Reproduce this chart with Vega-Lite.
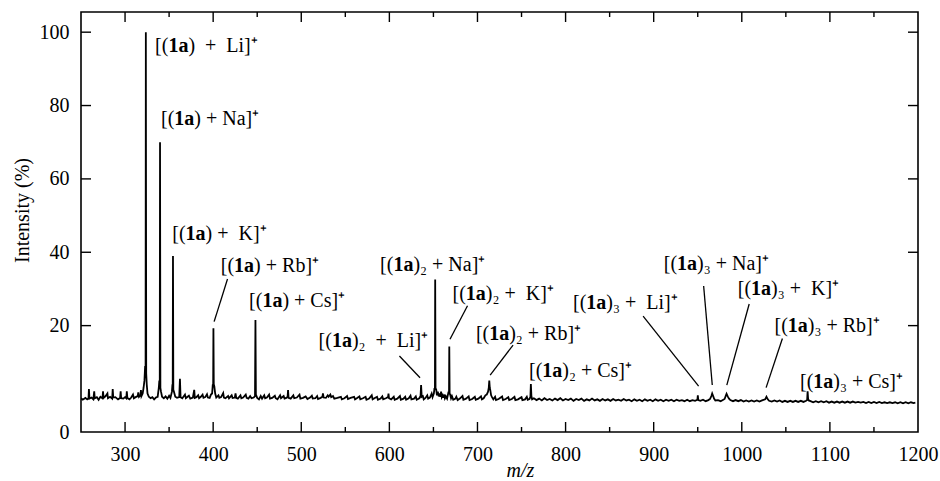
{
  "$schema": "https://vega.github.io/schema/vega-lite/v6.json",
  "width": 837,
  "height": 420,
  "autosize": {"type": "none"},
  "padding": {"left": 81, "top": 12, "right": 22, "bottom": 49},
  "background": "white",
  "config": {
    "font": "Liberation Serif",
    "view": {"stroke": "#000", "strokeWidth": 1.6},
    "axis": {
      "domainOpacity": 0, "gridOpacity": 0,
      "labelFont": "Liberation Serif", "labelFontSize": 20, "labelColor": "#000",
      "titleFont": "Liberation Serif", "titleFontSize": 20, "titleColor": "#000", "titleFontWeight": "normal",
      "labelFlush": false, "labelOverlap": false
    }
  },
  "datasets": {
    "spectrum": [
      {"mz":250,"i":0.2},{"mz":252,"i":-0.2},{"mz":255,"i":0.3},{"mz":257,"i":-0.1},{"mz":258.5,"i":0.2},{"mz":259,"i":2.7},{"mz":259.6,"i":0.1},
      {"mz":262,"i":0.4},{"mz":264,"i":-0.1},{"mz":265,"i":2.1},{"mz":265.6,"i":0.2},{"mz":268,"i":0.5},{"mz":270,"i":-0.2},{"mz":272,"i":0.6},
      {"mz":274.4,"i":0.2},{"mz":275,"i":2.1},{"mz":275.6,"i":0.3},{"mz":278,"i":0.8},{"mz":280,"i":1.5},{"mz":280.6,"i":0.2},{"mz":283,"i":0.6},
      {"mz":285.4,"i":0.1},{"mz":286,"i":2.7},{"mz":286.6,"i":0.4},{"mz":289,"i":0.5},{"mz":292,"i":-0.1},{"mz":294.4,"i":0.3},{"mz":295,"i":2.1},
      {"mz":295.6,"i":0.2},{"mz":298,"i":0.1},{"mz":300,"i":0.5},{"mz":301.4,"i":0.2},{"mz":302,"i":2.1},{"mz":302.6,"i":0.3},{"mz":305,"i":-0.1},
      {"mz":307,"i":0.4},{"mz":309,"i":1.2},{"mz":310,"i":0.2},{"mz":312,"i":0.5},{"mz":314.4,"i":0.8},{"mz":315,"i":1.8},{"mz":315.8,"i":0.6},
      {"mz":317.5,"i":1.0},{"mz":318,"i":2.4},{"mz":318.6,"i":0.8},{"mz":320,"i":1.5},{"mz":321,"i":3},{"mz":322,"i":5},{"mz":322.8,"i":9},
      {"mz":323.3,"i":8},{"mz":323.6,"i":100},{"mz":324,"i":7},{"mz":324.6,"i":4},{"mz":325.5,"i":1.5},{"mz":327,"i":0.6},{"mz":329,"i":0.2},
      {"mz":331,"i":0.5},{"mz":333,"i":-0.1},{"mz":335,"i":0.4},{"mz":337,"i":0.6},{"mz":338.3,"i":3},{"mz":338.9,"i":5},{"mz":339.4,"i":3},
      {"mz":339.7,"i":70},{"mz":340.1,"i":3},{"mz":340.8,"i":2},{"mz":342,"i":0.6},{"mz":344,"i":0.2},{"mz":346,"i":0.7},{"mz":348,"i":0.1},
      {"mz":350,"i":0.9},{"mz":351.5,"i":0.3},{"mz":353.2,"i":2},{"mz":353.8,"i":4},{"mz":354.1,"i":2.5},{"mz":354.4,"i":39},{"mz":354.8,"i":2.5},
      {"mz":355.5,"i":2},{"mz":357,"i":0.6},{"mz":359,"i":0.3},{"mz":361.5,"i":0.5},{"mz":362.3,"i":5.5},{"mz":363,"i":0.5},{"mz":365,"i":0.2},
      {"mz":368,"i":1.2},{"mz":369,"i":0.2},{"mz":371,"i":0.6},{"mz":372.5,"i":0.9},{"mz":374,"i":0.1},{"mz":377,"i":0.4},{"mz":378.5,"i":2.5},
      {"mz":379.2,"i":0.3},{"mz":381,"i":0.5},{"mz":383,"i":1},{"mz":384,"i":0.2},{"mz":386,"i":0.6},{"mz":388,"i":1.2},{"mz":389,"i":0.3},
      {"mz":391,"i":0.5},{"mz":393,"i":1.3},{"mz":394,"i":0.4},{"mz":396,"i":0.3},{"mz":397.5,"i":1.2},{"mz":398.8,"i":1.5},{"mz":399.6,"i":4},
      {"mz":400,"i":3.5},{"mz":400.3,"i":19.3},{"mz":400.7,"i":4},{"mz":401.3,"i":3.5},{"mz":402.3,"i":1.5},{"mz":403.5,"i":0.4},{"mz":406,"i":1},
      {"mz":407,"i":0.3},{"mz":409,"i":0.5},{"mz":411.4,"i":1.6},{"mz":412.2,"i":0.4},{"mz":414,"i":0.2},{"mz":417,"i":0.8},{"mz":418,"i":0.2},
      {"mz":421,"i":1},{"mz":422,"i":0.3},{"mz":424.6,"i":0.4},{"mz":425.4,"i":1.5},{"mz":426.2,"i":0.3},{"mz":428,"i":0.1},{"mz":431,"i":1},
      {"mz":432,"i":0.2},{"mz":434,"i":0.4},{"mz":437,"i":1.2},{"mz":438,"i":0.3},{"mz":440,"i":0.1},{"mz":442,"i":0.8},{"mz":443.5,"i":0.2},
      {"mz":446,"i":0.4},{"mz":447.5,"i":0.8},{"mz":448,"i":21.5},{"mz":448.5,"i":1.2},{"mz":450,"i":0.3},{"mz":452,"i":-0.1},{"mz":454,"i":0.8},
      {"mz":455.5,"i":0.1},{"mz":458,"i":1},{"mz":459,"i":0.2},{"mz":461,"i":0.4},{"mz":463.5,"i":1.2},{"mz":464.5,"i":0.1},{"mz":467,"i":0.3},
      {"mz":470,"i":0.9},{"mz":471,"i":0.2},{"mz":473,"i":-0.1},{"mz":476,"i":1},{"mz":477,"i":0.2},{"mz":480,"i":0.8},{"mz":481,"i":0.1},
      {"mz":483,"i":0.3},{"mz":484.5,"i":0.6},{"mz":485,"i":2.4},{"mz":485.6,"i":0.3},{"mz":488,"i":0.1},{"mz":491,"i":1},{"mz":492,"i":0.2},
      {"mz":495,"i":0.4},{"mz":498,"i":1.2},{"mz":499,"i":0.1},{"mz":502,"i":0.3},{"mz":505,"i":0.7},{"mz":507,"i":0},{"mz":510,"i":0.4},
      {"mz":512,"i":0.9},{"mz":513,"i":0.1},{"mz":516,"i":0.2},{"mz":518,"i":0.8},{"mz":519,"i":0},{"mz":522,"i":0.3},{"mz":524,"i":0.6},
      {"mz":524.6,"i":1.5},{"mz":525.4,"i":0.4},{"mz":528,"i":0.3},{"mz":530,"i":1},{"mz":531,"i":0.6},{"mz":533,"i":1.2},{"mz":534,"i":0.5},
      {"mz":536,"i":0.8},{"mz":537.5,"i":0.1},{"mz":541,"i":0.3},{"mz":545,"i":0.6},{"mz":546,"i":-0.1},{"mz":549,"i":0.2},{"mz":552,"i":0.8},
      {"mz":553,"i":0},{"mz":556,"i":0.3},{"mz":560,"i":0.6},{"mz":561,"i":-0.1},{"mz":563,"i":0.2},{"mz":566,"i":0.7},{"mz":567,"i":-0.1},
      {"mz":570,"i":0.2},{"mz":573,"i":0.6},{"mz":574,"i":-0.2},{"mz":577,"i":0.1},{"mz":580,"i":1},{"mz":581,"i":-0.1},{"mz":583,"i":0.2},
      {"mz":586,"i":0.6},{"mz":587,"i":-0.2},{"mz":590,"i":0.1},{"mz":592,"i":0.7},{"mz":593,"i":-0.1},{"mz":596,"i":0.2},{"mz":598.5,"i":0.5},
      {"mz":599,"i":1.5},{"mz":599.6,"i":0.2},{"mz":602,"i":-0.1},{"mz":605,"i":0.6},{"mz":606,"i":-0.2},{"mz":609,"i":0.1},{"mz":612,"i":0.8},
      {"mz":613,"i":-0.2},{"mz":616,"i":0.1},{"mz":618,"i":0.6},{"mz":619,"i":-0.2},{"mz":622,"i":0.2},{"mz":624,"i":0.9},{"mz":625,"i":-0.1},
      {"mz":628,"i":0.1},{"mz":630,"i":0.7},{"mz":631,"i":-0.2},{"mz":634,"i":0.2},{"mz":635.4,"i":0.8},{"mz":636,"i":3.8},{"mz":636.7,"i":0.6},
      {"mz":638,"i":0.8},{"mz":639,"i":-0.1},{"mz":641,"i":0.3},{"mz":643,"i":1},{"mz":644,"i":0.1},{"mz":646,"i":0.4},{"mz":648,"i":1.5},
      {"mz":649,"i":0.5},{"mz":650.5,"i":1.5},{"mz":651.2,"i":3},{"mz":651.7,"i":2.5},{"mz":652,"i":32.6},{"mz":652.4,"i":3},{"mz":653.2,"i":2.5},
      {"mz":654,"i":1},{"mz":655,"i":2},{"mz":656,"i":0.7},{"mz":657,"i":1.5},{"mz":657.8,"i":0.6},{"mz":658.7,"i":2},{"mz":659.5,"i":0.5},
      {"mz":660.5,"i":1},{"mz":661.2,"i":0.3},{"mz":662,"i":1.2},{"mz":663,"i":0.2},{"mz":664,"i":0.8},{"mz":665.5,"i":0.1},{"mz":667.2,"i":2},
      {"mz":667.7,"i":1.5},{"mz":668,"i":14.3},{"mz":668.4,"i":1.5},{"mz":669,"i":1.2},{"mz":670,"i":0.2},{"mz":671,"i":0.8},{"mz":672.5,"i":-0.2},
      {"mz":675,"i":0.1},{"mz":676,"i":0.6},{"mz":677.5,"i":-0.3},{"mz":680,"i":0.1},{"mz":683,"i":0.8},{"mz":684,"i":-0.2},{"mz":687,"i":0.1},
      {"mz":690,"i":0.7},{"mz":691,"i":-0.3},{"mz":694,"i":0},{"mz":697,"i":0.6},{"mz":698,"i":-0.2},{"mz":701,"i":0.1},{"mz":704,"i":0.7},
      {"mz":705,"i":-0.1},{"mz":707,"i":0.2},{"mz":709,"i":1},{"mz":710.5,"i":1.2},{"mz":712,"i":2},{"mz":712.8,"i":3},{"mz":713.4,"i":5.0},
      {"mz":714,"i":3},{"mz":714.5,"i":2.5},{"mz":715.5,"i":1},{"mz":716.5,"i":0.5},{"mz":718,"i":-0.1},{"mz":720,"i":0.6},{"mz":721,"i":-0.3},
      {"mz":724,"i":0},{"mz":728,"i":0.7},{"mz":729,"i":-0.3},{"mz":732,"i":0},{"mz":735,"i":0.5},{"mz":736,"i":-0.3},{"mz":739,"i":0},
      {"mz":742,"i":0.6},{"mz":743,"i":-0.3},{"mz":746,"i":-0.1},{"mz":750,"i":0.5},{"mz":751,"i":-0.3},{"mz":754,"i":-0.1},{"mz":756,"i":0.6},
      {"mz":757,"i":-0.2},{"mz":759,"i":0},{"mz":760.1,"i":0.6},{"mz":760.6,"i":4.1},{"mz":761.2,"i":0.8},{"mz":762,"i":-0.1},{"mz":764,"i":0.2},
      {"mz":767,"i":-0.3},{"mz":770,"i":0.1},{"mz":773,"i":-0.4},{"mz":776,"i":0.2},{"mz":779,"i":-0.3},{"mz":782,"i":0},{"mz":785,"i":-0.4},
      {"mz":788,"i":0.1},{"mz":791,"i":-0.3},{"mz":794,"i":0.2},{"mz":797,"i":-0.4},{"mz":800,"i":0},{"mz":803,"i":-0.3},{"mz":806,"i":0.1},
      {"mz":809,"i":-0.5},{"mz":812,"i":0},{"mz":815,"i":-0.3},{"mz":818,"i":0.1},{"mz":821,"i":-0.5},{"mz":824,"i":-0.1},{"mz":827,"i":-0.4},
      {"mz":830,"i":0.1},{"mz":833,"i":-0.4},{"mz":836,"i":-0.1},{"mz":839,"i":-0.5},{"mz":842,"i":0},{"mz":845,"i":-0.4},{"mz":848,"i":-0.1},
      {"mz":851,"i":-0.5},{"mz":854,"i":0},{"mz":857,"i":-0.4},{"mz":860,"i":-0.2},{"mz":863,"i":-0.5},{"mz":866,"i":0},{"mz":869,"i":-0.4},
      {"mz":872,"i":-0.2},{"mz":875,"i":-0.6},{"mz":878,"i":-0.1},{"mz":881,"i":-0.5},{"mz":884,"i":-0.2},{"mz":887,"i":-0.6},{"mz":890,"i":-0.1},
      {"mz":893,"i":-0.5},{"mz":896,"i":-0.2},{"mz":899,"i":-0.6},{"mz":902,"i":-0.1},{"mz":905,"i":-0.5},{"mz":908,"i":-0.2},{"mz":911,"i":-0.6},
      {"mz":914,"i":-0.2},{"mz":917,"i":-0.5},{"mz":920,"i":-0.2},{"mz":923,"i":-0.6},{"mz":926,"i":-0.2},{"mz":929,"i":-0.5},{"mz":932,"i":-0.3},
      {"mz":935,"i":-0.6},{"mz":938,"i":-0.2},{"mz":941,"i":-0.6},{"mz":944,"i":-0.3},{"mz":947,"i":-0.5},{"mz":949.6,"i":-0.2},{"mz":950.1,"i":1.0},
      {"mz":950.6,"i":-0.3},{"mz":953,"i":-0.5},{"mz":956,"i":-0.2},{"mz":959,"i":-0.6},{"mz":962,"i":-0.3},{"mz":964,"i":0},{"mz":965.5,"i":0.8},
      {"mz":966.4,"i":1.5},{"mz":967.5,"i":0.8},{"mz":968.5,"i":0.1},{"mz":970,"i":-0.4},{"mz":973,"i":-0.3},{"mz":976,"i":-0.6},{"mz":979,"i":-0.2},
      {"mz":980.5,"i":0},{"mz":982,"i":1.0},{"mz":982.7,"i":1.4},{"mz":984,"i":0.7},{"mz":985.5,"i":0.1},{"mz":987,"i":-0.3},{"mz":990,"i":-0.6},
      {"mz":993,"i":-0.3},{"mz":996,"i":-0.6},{"mz":999,"i":-0.3},{"mz":1002,"i":-0.7},{"mz":1005,"i":-0.4},{"mz":1008,"i":-0.7},{"mz":1011,"i":-0.4},
      {"mz":1014,"i":-0.7},{"mz":1017,"i":-0.4},{"mz":1020,"i":-0.7},{"mz":1023,"i":-0.4},{"mz":1026.5,"i":-0.1},{"mz":1028,"i":0.6},{"mz":1029.5,"i":-0.1},
      {"mz":1031,"i":-0.5},{"mz":1034,"i":-0.7},{"mz":1037,"i":-0.4},{"mz":1040,"i":-0.7},{"mz":1043,"i":-0.4},{"mz":1046,"i":-0.8},{"mz":1049,"i":-0.5},
      {"mz":1052,"i":-0.8},{"mz":1055,"i":-0.5},{"mz":1058,"i":-0.8},{"mz":1061,"i":-0.5},{"mz":1064,"i":-0.8},{"mz":1067,"i":-0.5},{"mz":1070,"i":-0.8},
      {"mz":1073,"i":-0.5},{"mz":1074.2,"i":-0.3},{"mz":1074.7,"i":2.1},{"mz":1075.3,"i":0},{"mz":1076,"i":-0.4},{"mz":1078,"i":-0.6},{"mz":1081,"i":-0.9},
      {"mz":1084,"i":-0.6},{"mz":1087,"i":-0.9},{"mz":1090,"i":-0.6},{"mz":1093,"i":-0.9},{"mz":1096,"i":-0.6},{"mz":1099,"i":-1.0},{"mz":1102,"i":-0.7},
      {"mz":1105,"i":-1.0},{"mz":1108,"i":-0.7},{"mz":1111,"i":-1.0},{"mz":1114,"i":-0.7},{"mz":1117,"i":-1.0},{"mz":1120,"i":-0.7},{"mz":1123,"i":-1.0},
      {"mz":1126,"i":-0.7},{"mz":1129,"i":-1.0},{"mz":1132,"i":-0.8},{"mz":1135,"i":-1.0},{"mz":1138,"i":-0.8},{"mz":1141,"i":-1.1},{"mz":1144,"i":-0.8},
      {"mz":1147,"i":-1.1},{"mz":1150,"i":-0.8},{"mz":1153,"i":-1.1},{"mz":1156,"i":-0.8},{"mz":1159,"i":-1.1},{"mz":1162,"i":-0.9},{"mz":1165,"i":-1.1},
      {"mz":1168,"i":-0.9},{"mz":1171,"i":-1.1},{"mz":1174,"i":-0.9},{"mz":1177,"i":-1.2},{"mz":1180,"i":-0.9},{"mz":1183,"i":-1.2},{"mz":1186,"i":-0.9},
      {"mz":1189,"i":-1.2},{"mz":1192,"i":-0.9},{"mz":1195,"i":-1.1},{"mz":1197,"i":-1.0}
    ],
    "leaders": [
      {"x":416.3,"y":32.7,"x2":401.1,"y2":21.1},
      {"x":611.4,"y":11.7,"x2":634.8,"y2":5.8},
      {"x":688.7,"y":25.4,"x2":668.8,"y2":16.3},
      {"x":740.4,"y":14.7,"x2":714.4,"y2":6.5},
      {"x":888,"y":22.6,"x2":951,"y2":3.5},
      {"x":956.7,"y":30.8,"x2":966.5,"y2":3.8},
      {"x":1008.4,"y":25.9,"x2":983,"y2":3.8},
      {"x":1046.1,"y":16.5,"x2":1027.6,"y2":3.1}
    ],
    "labels": [
      {"x":334.1,"y":94.7,"tail":") \u00a0+ \u00a0Li]⁺"},
      {"x":340.8,"y":74.7,"tail":") + Na]⁺"},
      {"x":353.6,"y":43.3,"tail":") + \u00a0K]⁺"},
      {"x":408.7,"y":34.7,"tail":") + Rb]⁺"},
      {"x":440.8,"y":25.2,"tail":") + Cs]⁺"},
      {"x":519.7,"y":14.3,"tail":")₂ \u00a0+ \u00a0Li]⁺"},
      {"x":589.5,"y":34.9,"tail":")₂ + Na]⁺"},
      {"x":671.7,"y":27.0,"tail":")₂ + \u00a0K]⁺"},
      {"x":698.2,"y":16.1,"tail":")₂ + Rb]⁺"},
      {"x":758.5,"y":6.1,"tail":")₂ + Cs]⁺"},
      {"x":808.4,"y":24.5,"tail":")₃ + \u00a0Li]⁺"},
      {"x":911.4,"y":35.2,"tail":")₃ + Na]⁺"},
      {"x":995.5,"y":28.4,"tail":")₃ + \u00a0K]⁺"},
      {"x":1037.1,"y":18.3,"tail":")₃ + Rb]⁺"},
      {"x":1066.1,"y":2.9,"tail":")₃ + Cs]⁺"}
    ],
    "xticks": [
      {"v":300,"kind":"major"},{"v":350,"kind":"minor"},{"v":400,"kind":"major"},{"v":450,"kind":"minor"},
      {"v":500,"kind":"major"},{"v":550,"kind":"minor"},{"v":600,"kind":"major"},{"v":650,"kind":"minor"},
      {"v":700,"kind":"major"},{"v":750,"kind":"minor"},{"v":800,"kind":"major"},{"v":850,"kind":"minor"},
      {"v":900,"kind":"major"},{"v":950,"kind":"minor"},{"v":1000,"kind":"major"},{"v":1050,"kind":"minor"},
      {"v":1100,"kind":"major"},{"v":1150,"kind":"minor"}
    ],
    "yticks": [{"v":20},{"v":40},{"v":60},{"v":80},{"v":100}]
  },
  "layer": [
    {
      "data": {"name": "spectrum"},
      "mark": {"type": "line", "color": "#000", "strokeWidth": 1.8, "clip": true},
      "encoding": {
        "x": {"field": "mz", "type": "quantitative",
          "scale": {"domain": [250, 1200], "nice": false, "zero": false},
          "axis": {"orient": "bottom", "title": "m/z", "titleFontStyle": "italic", "titleX": 439, "titleY": 44, "titleBaseline": "alphabetic",
            "values": [300,400,500,600,700,800,900,1000,1100,1200], "format": "d",
            "ticks": false, "labelPadding": 12}},
        "y": {"field": "i", "type": "quantitative",
          "scale": {"domain": [-9, 105.5], "nice": false, "zero": false},
          "axis": {"orient": "left", "title": "Intensity (%)", "titleX": -59, "titleY": 198, "titleAngle": -90, "titleBaseline": "middle",
            "values": [-9, 20, 40, 60, 80, 100],
            "labelExpr": "datum.value < 0 ? '0' : datum.label",
            "ticks": false, "labelPadding": 12}}
      }
    },
    {
      "data": {"name": "xticks"},
      "transform": [{"filter": "datum.kind === 'major'"}],
      "mark": {"type": "rule", "color": "#000", "strokeWidth": 1.4},
      "encoding": {
        "x": {"field": "v", "type": "quantitative"},
        "y": {"datum": -9, "type": "quantitative"},
        "y2": {"datum": -6.27}
      }
    },
    {
      "data": {"name": "xticks"},
      "transform": [{"filter": "datum.kind === 'major'"}],
      "mark": {"type": "rule", "color": "#000", "strokeWidth": 1.4},
      "encoding": {
        "x": {"field": "v", "type": "quantitative"},
        "y": {"datum": 105.5, "type": "quantitative"},
        "y2": {"datum": 102.77}
      }
    },
    {
      "data": {"name": "xticks"},
      "transform": [{"filter": "datum.kind === 'minor'"}],
      "mark": {"type": "rule", "color": "#000", "strokeWidth": 1.4},
      "encoding": {
        "x": {"field": "v", "type": "quantitative"},
        "y": {"datum": -9, "type": "quantitative"},
        "y2": {"datum": -7.64}
      }
    },
    {
      "data": {"name": "xticks"},
      "transform": [{"filter": "datum.kind === 'minor'"}],
      "mark": {"type": "rule", "color": "#000", "strokeWidth": 1.4},
      "encoding": {
        "x": {"field": "v", "type": "quantitative"},
        "y": {"datum": 105.5, "type": "quantitative"},
        "y2": {"datum": 104.14}
      }
    },
    {
      "data": {"name": "yticks"},
      "mark": {"type": "rule", "color": "#000", "strokeWidth": 1.4},
      "encoding": {
        "y": {"field": "v", "type": "quantitative"},
        "x": {"datum": 250, "type": "quantitative"},
        "x2": {"datum": 261.35}
      }
    },
    {
      "data": {"name": "yticks"},
      "mark": {"type": "rule", "color": "#000", "strokeWidth": 1.4},
      "encoding": {
        "y": {"field": "v", "type": "quantitative"},
        "x": {"datum": 1200, "type": "quantitative"},
        "x2": {"datum": 1188.65}
      }
    },
    {
      "data": {"name": "leaders"},
      "mark": {"type": "rule", "color": "#000", "strokeWidth": 1.3},
      "encoding": {
        "x": {"field": "x", "type": "quantitative"},
        "y": {"field": "y", "type": "quantitative"},
        "x2": {"field": "x2"},
        "y2": {"field": "y2"}
      }
    },
    {
      "data": {"name": "labels"},
      "mark": {"type": "text", "align": "left", "baseline": "alphabetic", "font": "Liberation Serif", "fontSize": 20, "color": "#000"},
      "encoding": {
        "x": {"field": "x", "type": "quantitative"},
        "y": {"field": "y", "type": "quantitative"},
        "text": {"value": "[("}
      }
    },
    {
      "data": {"name": "labels"},
      "mark": {"type": "text", "align": "left", "baseline": "alphabetic", "font": "Liberation Serif", "fontSize": 20, "fontWeight": "bold", "color": "#000", "dx": 13.3},
      "encoding": {
        "x": {"field": "x", "type": "quantitative"},
        "y": {"field": "y", "type": "quantitative"},
        "text": {"value": "1a"}
      }
    },
    {
      "data": {"name": "labels"},
      "mark": {"type": "text", "align": "left", "baseline": "alphabetic", "font": "Liberation Serif", "fontSize": 20, "color": "#000", "dx": 33.3},
      "encoding": {
        "x": {"field": "x", "type": "quantitative"},
        "y": {"field": "y", "type": "quantitative"},
        "text": {"field": "tail"}
      }
    }
  ]
}
